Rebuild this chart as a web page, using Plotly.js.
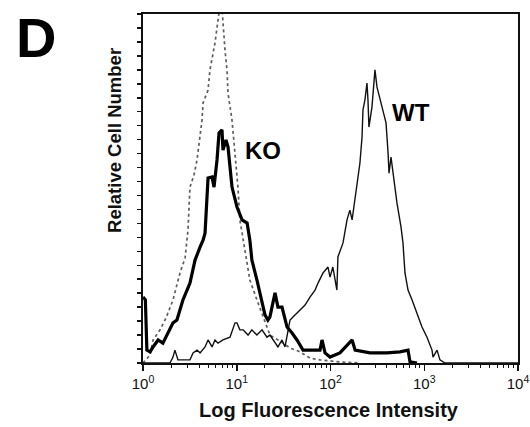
<!DOCTYPE html>
<html>
<head>
<meta charset="utf-8">
<script src="https://cdn.plot.ly/plotly-3.0.1.min.js"></script>
<style>html,body{margin:0;padding:0;background:#fff;}#chart{width:530px;height:427px;}</style>
</head>
<body>
<div id="chart"></div>
<script>
// Fluorescence intensity (log scale) and relative cell number
var ctrlX = [1.00,1.19,1.28,1.52,1.76,2.09,2.48,2.81,3.02,3.17,3.50,3.77,4.26,4.37,4.94,5.18,5.86,6.31,6.63,6.96,7.13,7.49,7.87,8.07,8.90,9.58,10.3,10.8,11.7,13.8,16.4,19.1,22.6,31.1,37.0,47.3,60.4,77.3,126,206];
var ctrlY = [0,2.3,6.6,9.5,12.9,18.1,25.8,30.1,38.1,50.4,53.9,58.2,69.6,74.5,78.2,84.0,91.7,98.3,102.6,101.7,97.4,89.7,84.0,77.4,69.6,60.2,50.4,41.0,35.2,23.8,18.1,13.2,8.0,5.7,4.3,3.2,1.4,0.9,0.3,0];

var koX = [1.00,1.06,1.10,1.19,1.28,1.45,1.63,1.85,2.09,2.30,2.67,3.17,3.59,4.06,4.37,4.59,4.82,4.94,5.45,5.72,6.16,6.47,6.96,7.13,7.68,8.07,8.90,10.06,11.4,12.9,13.8,14.5,16.4,18.6,20.0,21.5,22.6,25.6,27.5,30.4,34.4,38.9,43.9,50.9,60.4,77.3,81.2,87.4,98.8,126,170,183,264,401,551,671,705,837];
var koY = [18.9,18.1,3.7,3.2,4.6,6.6,5.7,8.6,11.5,12.3,18.1,22.9,29.5,33.2,35.2,37.2,50.4,53.0,53.3,50.4,58.2,65.9,66.8,61.0,63.9,61.9,50.4,44.7,41.0,40.1,35.2,29.5,23.8,17.2,13.8,12.3,13.2,20.1,16.0,16.0,10.3,8.6,6.6,3.7,3.7,3.7,6.6,2.9,1.7,2.9,6.6,3.7,2.9,2.9,3.2,3.7,0.3,0];

var wtX = [1.00,1.94,2.09,2.19,2.36,3.17,3.42,3.77,4.06,4.59,4.94,5.45,5.86,6.31,7.13,8.47,9.58,10.06,10.8,11.7,13.2,14.5,16.4,18.6,21.0,22.6,27.5,30.4,32.7,37.0,39.8,47.3,53.5,60.4,68.4,73.6,83.2,94.0,98.8,106,117,120,136,150,161,170,192,206,217,222,233,245,251,257,277,298,313,337,363,391,411,421,442,476,512,565,593,623,671,740,837,946,1070,1210,1240,1370,1470,1664,10000];
var wtY = [0,0,1.7,3.7,0.9,0.9,2.9,3.7,2.9,4.6,6.6,4.6,6.6,5.7,6.6,7.4,11.5,11.5,9.5,9.5,8.0,9.5,8.0,9.5,7.4,8.0,4.6,6.6,4.6,12.3,13.2,15.2,16.6,18.9,20.9,22.9,25.8,27.5,24.6,27.5,20.9,30.4,34.4,41.0,43.8,41.0,51.6,57.3,64.8,72.5,75.4,80.2,75.4,67.6,73.4,84.0,79.1,75.4,71.6,68.8,60.2,54.4,59.0,51.6,45.8,39.0,34.4,25.8,20.9,18.1,14.3,10.3,7.4,3.7,1.7,3.7,0.9,0,0];

var tickVals = [1,10,100,1000,10000];
var tickText = ['10<sup>0</sup>','10<sup>1</sup>','10<sup>2</sup>','10<sup>3</sup>','10<sup>4</sup>'];

var FONT = 'Liberation Sans, Arial, Helvetica, sans-serif';

var traces = [
  {x: ctrlX, y: ctrlY, type: 'scatter', mode: 'lines', name: 'Control',
   line: {color: '#5e5e5e', width: 1.7, dash: 'dot'}, hoverinfo: 'skip'},
  {x: wtX, y: wtY, type: 'scatter', mode: 'lines', name: 'WT',
   line: {color: '#111', width: 1.4}, hoverinfo: 'skip'},
  {x: koX, y: koY, type: 'scatter', mode: 'lines', name: 'KO',
   line: {color: '#000', width: 3.2}, hoverinfo: 'skip'}
];

var layout = {
  width: 530, height: 427,
  margin: {l: 143, r: 12, t: 14, b: 64},
  paper_bgcolor: '#ffffff', plot_bgcolor: '#ffffff',
  showlegend: false,
  font: {family: FONT, color: '#111'},
  xaxis: {
    type: 'log', range: [0, 4],
    tickmode: 'array', tickvals: tickVals, ticktext: tickText,
    tickfont: {size: 15, family: FONT, color: '#111'},
    ticks: 'outside', ticklen: 6, tickwidth: 1.5, tickcolor: '#111',
    minor: {ticks: 'outside', ticklen: 3, tickwidth: 1, tickcolor: '#111', dtick: 'D1', showgrid: false},
    showline: true, linewidth: 2.2, linecolor: '#111', mirror: true,
    showgrid: false, zeroline: false, fixedrange: true
  },
  yaxis: {
    range: [0, 100], dtick: 4, tick0: 0,
    showticklabels: false,
    ticks: 'outside', ticklen: 4, tickwidth: 1.5, tickcolor: '#111',
    showline: true, linewidth: 2, linecolor: '#111', mirror: true,
    showgrid: false, zeroline: false, fixedrange: true
  },
  annotations: [
    {text: '<b>D</b>', xref: 'paper', yref: 'paper', x: -0.285, y: 0.934,
     xanchor: 'center', yanchor: 'middle', showarrow: false,
     font: {size: 56, family: FONT, color: '#000'}},
    {text: '<b>Relative Cell Number</b>', xref: 'paper', yref: 'paper', x: -0.0747, y: 0.639,
     xanchor: 'center', yanchor: 'middle', showarrow: false, textangle: -90,
     font: {size: 18.5, family: FONT, color: '#111'}},
    {text: '<b>Log Fluorescence Intensity</b>', xref: 'paper', yref: 'paper', x: 0.496, y: -0.135,
     xanchor: 'center', yanchor: 'middle', showarrow: false,
     font: {size: 20, family: FONT, color: '#111'}},
    {text: '<b>KO</b>', xref: 'paper', yref: 'paper', x: 0.32, y: 0.61,
     xanchor: 'center', yanchor: 'middle', showarrow: false,
     font: {size: 24, family: FONT, color: '#000'}},
    {text: '<b>WT</b>', xref: 'paper', yref: 'paper', x: 0.715, y: 0.719,
     xanchor: 'center', yanchor: 'middle', showarrow: false,
     font: {size: 24, family: FONT, color: '#000'}}
  ]
};

Plotly.newPlot('chart', traces, layout, {staticPlot: true, displayModeBar: false});
</script>
</body>
</html>
